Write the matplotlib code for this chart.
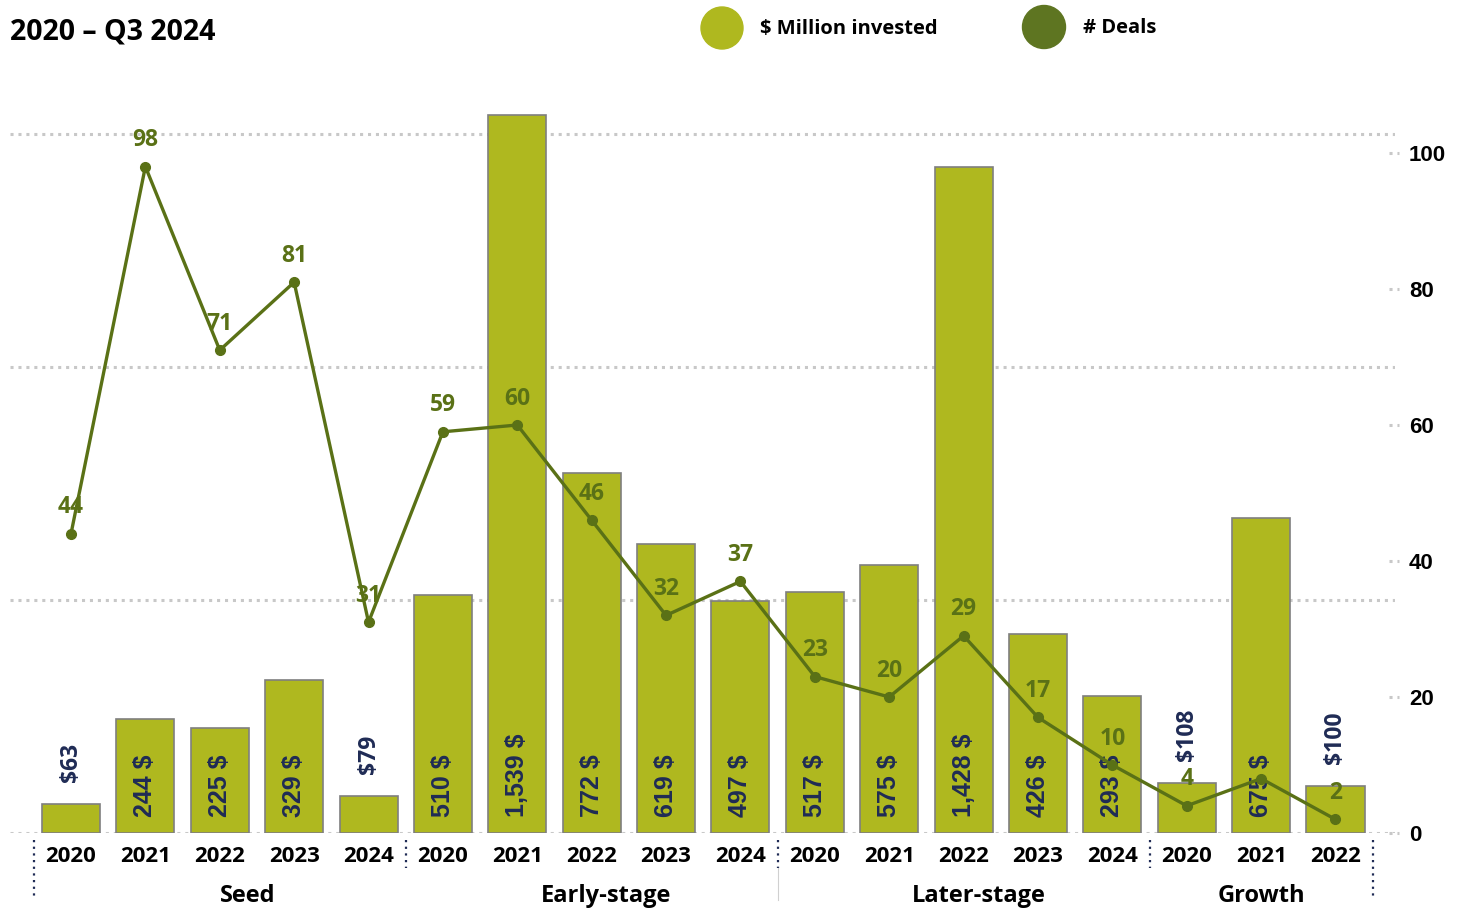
import matplotlib
matplotlib.use("Agg")
import matplotlib.pyplot as plt
from matplotlib.patches import Circle
import matplotlib.transforms as mtransforms

plt.rcParams['font.family'] = ['Open Sans', 'DejaVu Sans']

# Investment by stage, 2020 - Q3 2024
stages = ['Seed', 'Early-stage', 'Later-stage', 'Growth']
stage_years = [
    ['2020', '2021', '2022', '2023', '2024'],
    ['2020', '2021', '2022', '2023', '2024'],
    ['2020', '2021', '2022', '2023', '2024'],
    ['2020', '2021', '2022'],
]
invested = [63, 244, 225, 329, 79,
            510, 1539, 772, 619, 497,
            517, 575, 1428, 426, 293,
            108, 675, 100]
deals = [44, 98, 71, 81, 31,
         59, 60, 46, 32, 37,
         23, 20, 29, 17, 10,
         4, 8, 2]
# the 2021 growth point has no visible count label
deal_label_hidden = [16]

bar_color = '#afb81f'
line_color = '#5a7116'
label_navy = '#1f2b55'
grid_color = '#c8c8c8'

years = [y for ys in stage_years for y in ys]
x = list(range(len(years)))

fig = plt.figure(figsize=(14.61, 9.09), dpi=100)
ax = fig.add_axes([10 / 1461, 76 / 909, 1385 / 1461, 746 / 909])
ax2 = ax.twinx()

ax.bar(x, invested, width=0.78, color=bar_color, edgecolor='#7f7f7f', linewidth=1.2, zorder=2)
ax.set_xlim(-0.82, 17.8)
ax.set_ylim(0, 1600)
ax.set_yticks([])
for gy in [0, 500, 1000, 1500]:
    ax.axhline(gy, color=grid_color, linestyle=(0, (1, 1.6)), linewidth=2.2, zorder=1)

for sp in ax.spines.values():
    sp.set_visible(False)
for sp in ax2.spines.values():
    sp.set_visible(False)

# value labels on the bars
for xi, v in zip(x, invested):
    if v >= 200:
        ax.text(xi, 34, f'{v:,} $', rotation=90, ha='center', va='bottom',
                fontsize=18, fontweight='bold', family='Liberation Sans',
                color=label_navy, zorder=5)
    else:
        ax.text(xi, v + 47, f'${v:,}', rotation=90, ha='center', va='bottom',
                fontsize=16.5, fontweight='bold', color=label_navy, zorder=5)

# deals line on the right axis
ax2.set_ylim(0, 1600 * 746 / 1600 / 6.8)
ax2.plot(x, deals, color=line_color, linewidth=2.4, marker='o', markersize=7, zorder=4)
for i, (xi, d) in enumerate(zip(x, deals)):
    if i in deal_label_hidden:
        continue
    ax2.annotate(str(d), (xi, d), xytext=(0, 19), textcoords='offset points',
                 ha='center', va='center', fontsize=16.5, fontweight='bold',
                 color=line_color, zorder=6)

ax2.set_yticks([0, 20, 40, 60, 80, 100])
ax2.tick_params(axis='y', length=0, pad=10)
for lab in ax2.get_yticklabels():
    lab.set_fontfamily('Liberation Sans')
    lab.set_fontweight('bold')
    lab.set_fontsize(16)
tick_tr = mtransforms.blended_transform_factory(ax2.transAxes, ax2.transData)
for t in [0, 20, 40, 60, 80, 100]:
    ax2.plot([0.9955, 1.003], [t, t], transform=tick_tr, color=grid_color,
             linestyle=(0, (1, 1.6)), linewidth=2.2, clip_on=False)

# category axis: years, then stage names with dotted separators
ax.set_xticks(x)
ax.set_xticklabels(years, fontsize=16, fontweight='bold')
ax.tick_params(axis='x', length=0, pad=9)

sep_tr = mtransforms.blended_transform_factory(ax.transData, fig.transFigure)
bounds = [-0.5]
pos = -0.5
for ys in stage_years:
    pos += len(ys)
    bounds.append(pos)
for i, b in enumerate(bounds):
    low = 9 / 909 if i in (0, len(bounds) - 1) else 41 / 909
    ax.plot([b, b], [69 / 909, low], transform=sep_tr, color=label_navy,
            linestyle=(0, (1, 2)), linewidth=1.6, clip_on=False)
# faint continuation below the middle separator
ax.plot([bounds[2], bounds[2]], [41 / 909, 9 / 909], transform=sep_tr,
        color='#d0d0d0', linewidth=0.8, clip_on=False)

# stage names sit slightly right of the group centre
name_shift = [0.37, 0.2, 0.2, 0.0]
for i, name in enumerate(stages):
    mid = (bounds[i] + bounds[i + 1]) / 2 + name_shift[i]
    ax.text(mid, 13 / 909, name, transform=sep_tr, ha='center', va='center',
            fontsize=17, fontweight='bold', color='black')

# title and legend
fig.text(10 / 1461, 1 - 32 / 909, '2020 \u2013 Q3 2024', ha='left', va='center',
         fontsize=20.5, fontweight='bold')
fig.add_artist(Circle((722 / 100, (909 - 28) / 100), 0.21, color=bar_color,
                      transform=fig.dpi_scale_trans))
fig.text(760 / 1461, 1 - 29 / 909, '$ Million invested', ha='left', va='center',
         fontsize=14.5, fontweight='bold')
fig.add_artist(Circle((1044 / 100, (909 - 27) / 100), 0.215, color='#5e7521',
                      transform=fig.dpi_scale_trans))
fig.text(1083 / 1461, 1 - 28 / 909, '# Deals', ha='left', va='center',
         fontsize=14.5, fontweight='bold')

fig.savefig('out.png', dpi=100)
